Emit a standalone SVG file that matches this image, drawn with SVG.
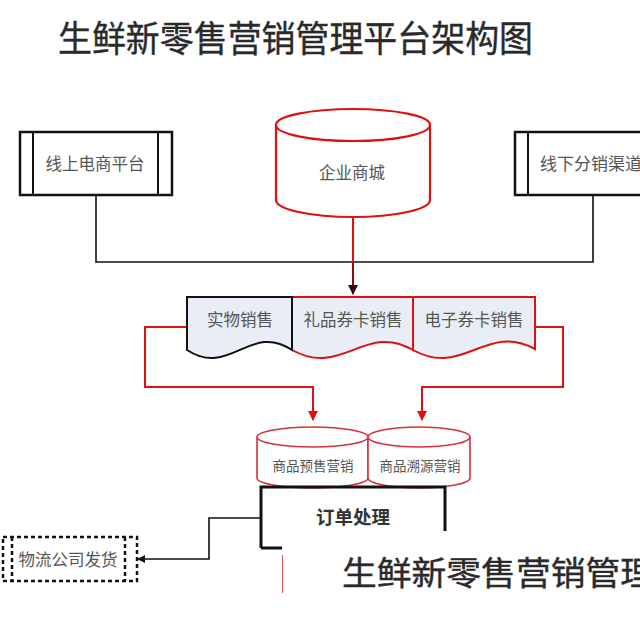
<svg xmlns="http://www.w3.org/2000/svg" width="640" height="640" viewBox="0 0 640 640">
<defs>
<style>
.cjk{font-family:"Noto Sans CJK SC","Noto Sans",sans-serif;}
.lbl{font-size:16.5px;fill:#555;text-anchor:middle;}
.blk{fill:none;stroke:#111;stroke-width:1.6;}
.red{fill:none;stroke:#e01010;stroke-width:2;}
.doc{fill:#e9edf5;stroke-width:2;}
.cyl{fill:#fff;stroke:#d8303a;stroke-width:1.6;}
.big{fill:#2a2a2a;stroke:#2a2a2a;stroke-width:0.4;}
</style>
<marker id="ab" viewBox="0 0 10 10" refX="9" refY="5" markerWidth="5" markerHeight="5" orient="auto"><path d="M0,0 L10,5 L0,10 Z" fill="#111"/></marker>
<marker id="ar" viewBox="0 0 10 10" refX="9" refY="5" markerWidth="5" markerHeight="5" orient="auto"><path d="M0,0 L10,5 L0,10 Z" fill="#e01010"/></marker>
<marker id="ad" viewBox="0 0 10 10" refX="9" refY="5" markerWidth="5" markerHeight="5" orient="auto"><path d="M0,0 L10,5 L0,10 Z" fill="#3a0a0a"/></marker>
</defs>
<rect width="640" height="640" fill="#fff"/>
<text class="cjk big" x="58" y="52" font-size="36" textLength="475" lengthAdjust="spacingAndGlyphs">生鲜新零售营销管理平台架构图</text>

<g id="connectors">
<path class="blk" d="M96,195 V262 H593 V195"/>
<path class="red" d="M353,217 V262"/>
<path d="M353,262 V294" fill="none" stroke="#8a1010" stroke-width="2" marker-end="url(#ad)"/>
<path class="red" d="M187,327 H145 V387 H313 V420" marker-end="url(#ar)"/>
<path class="red" d="M535,327 H563 V387 H422 V420" marker-end="url(#ar)"/>
<path class="blk" d="M261,518 H209 V559 H138" marker-end="url(#ab)"/>
</g>

<g id="online">
<rect x="20" y="132" width="152" height="63" fill="#fff" stroke="#111" stroke-width="2.5"/>
<line x1="33" y1="132" x2="33" y2="195" stroke="#111" stroke-width="2"/>
<line x1="158" y1="132" x2="158" y2="195" stroke="#111" stroke-width="2"/>
<text class="cjk lbl" x="95" y="170">线上电商平台</text>
</g>

<g id="offline">
<rect x="515" y="132" width="140" height="63" fill="#fff" stroke="#111" stroke-width="2.5"/>
<line x1="528" y1="132" x2="528" y2="195" stroke="#111" stroke-width="2"/>
<text class="cjk" x="540" y="170" font-size="17" fill="#555">线下分销渠道</text>
</g>

<g id="mall">
<path d="M276,125 V200 A77,17 0 0 0 430,200 V125" fill="#fff" stroke="#e01010" stroke-width="2.2"/>
<ellipse cx="353" cy="125" rx="77" ry="16" fill="#fff" stroke="#e01010" stroke-width="2.2"/>
<text class="cjk lbl" x="352" y="179" font-size="17">企业商城</text>
</g>

<g id="doc3">
<path class="doc" stroke="#e01010" d="M413,297 H535 V349 C486,322 463,378 413,350 Z"/>
<text class="cjk lbl" x="474" y="326">电子券卡销售</text>
</g>
<g id="doc2">
<path class="doc" stroke="#e01010" d="M292,297 H413 V350 C365,322 342,378 292,350 Z"/>
<text class="cjk lbl" x="353" y="326">礼品券卡销售</text>
</g>
<g id="doc1">
<path class="doc" stroke="#111" d="M187,297 H292 V350 C250,322 230,378 187,350 Z"/>
<text class="cjk lbl" x="240" y="326">实物销售</text>
</g>

<g id="presale">
<path class="cyl" d="M257,437 V478 A55.5,10 0 0 0 368,478 V437"/>
<ellipse class="cyl" cx="312.5" cy="437" rx="55.5" ry="10"/>
<text class="cjk" x="313" y="471" font-size="13.5" fill="#555" text-anchor="middle">商品预售营销</text>
</g>
<g id="trace">
<path class="cyl" d="M368,437 V478 A51,10 0 0 0 470,478 V437"/>
<ellipse class="cyl" cx="419" cy="437" rx="51" ry="10"/>
<text class="cjk" x="420" y="471" font-size="13.5" fill="#555" text-anchor="middle">商品溯源营销</text>
</g>

<g id="order">
<path d="M261,548 V487 H445 V531" fill="none" stroke="#111" stroke-width="3"/>
<path d="M261,548 H282" fill="none" stroke="#111" stroke-width="3"/>
<text class="cjk" x="353" y="524" font-size="18.5" font-weight="bold" fill="#333" text-anchor="middle">订单处理</text>
</g>

<g id="logistics">
<rect x="3" y="537" width="134" height="44" fill="#fff" stroke="#111" stroke-width="2.5" stroke-dasharray="4,3"/>
<line x1="12" y1="537" x2="12" y2="581" stroke="#111" stroke-width="2.5" stroke-dasharray="4,3"/>
<line x1="125" y1="537" x2="125" y2="581" stroke="#111" stroke-width="2.5" stroke-dasharray="4,3"/>
<text class="cjk" x="68" y="566" font-size="16.5" fill="#555" text-anchor="middle">物流公司发货</text>
</g>

<rect x="283" y="531" width="357" height="109" fill="#fff"/>
<line x1="282.5" y1="555" x2="282.5" y2="593" stroke="#e05050" stroke-width="1"/>
<text class="cjk big" x="342" y="585" font-size="33" textLength="313" lengthAdjust="spacingAndGlyphs">生鲜新零售营销管理</text>
</svg>
